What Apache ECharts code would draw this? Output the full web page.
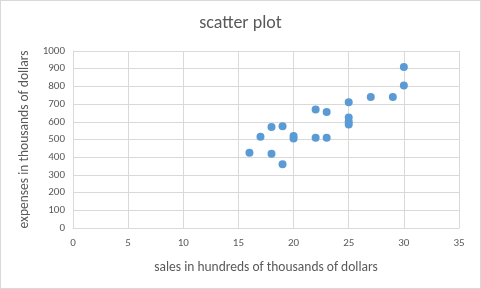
<!DOCTYPE html>
<html>
<head>
<meta charset="utf-8">
<script src="https://cdn.jsdelivr.net/npm/echarts@6/dist/echarts.min.js"></script>
<style>
  html, body { margin: 0; padding: 0; background: #fff; }
  #main { width: 481px; height: 289px; box-sizing: border-box; border: 1px solid #d9d9d9; }
</style>
</head>
<body>
<div id="main"></div>
<script>
// sales (hundreds of thousands) vs expenses (thousands)
var sales    = [16, 17, 18, 18, 19, 19, 20, 20, 22, 22, 23, 23, 25, 25, 25, 25, 27, 29, 30, 30];
var expenses = [425, 515, 570, 420, 575, 360, 520, 505, 670, 510, 655, 510, 710, 625, 600, 585, 740, 740, 805, 910];

var xTicks = { min: 0, max: 35, interval: 5 };
var yTicks = { min: 0, max: 1000, interval: 100 };

var points = sales.map(function (s, i) { return [s, expenses[i]]; });

var chart = echarts.init(document.getElementById('main'));

var txt = '#595959';
var gridCol = '#d9d9d9';
var font = 'Carlito, Calibri, "Open Sans", sans-serif';

chart.setOption({
  animation: false,
  title: {
    text: 'scatter plot',
    left: 'center',
    top: 8,
    textStyle: { color: txt, fontSize: 18, fontWeight: 'normal', fontFamily: font }
  },
  grid: {
    left: 72,
    right: 21,
    top: 50,
    bottom: 60
  },
  xAxis: {
    type: 'value',
    min: xTicks.min,
    max: xTicks.max,
    interval: xTicks.interval,
    name: 'sales in hundreds of thousands of dollars',
    nameLocation: 'middle',
    nameGap: 33,
    nameTextStyle: { color: txt, fontSize: 13.5, fontFamily: font },
    axisLine: { show: true, lineStyle: { color: gridCol } },
    axisTick: { show: false },
    axisLabel: { color: txt, fontSize: 11, fontFamily: font, margin: 10 },
    splitLine: { show: true, lineStyle: { color: gridCol } }
  },
  yAxis: {
    type: 'value',
    min: yTicks.min,
    max: yTicks.max,
    interval: yTicks.interval,
    name: 'expenses in thousands of dollars',
    nameLocation: 'middle',
    nameGap: 35,
    nameTextStyle: { color: txt, fontSize: 13.5, fontFamily: font },
    axisLine: { show: true, lineStyle: { color: gridCol } },
    axisTick: { show: false },
    axisLabel: {
      color: txt, fontSize: 11, fontFamily: font, margin: 8,
      formatter: function (v) { return String(v); }
    },
    splitLine: { show: true, lineStyle: { color: gridCol } }
  },
  series: [
    {
      type: 'scatter',
      data: points,
      symbol: 'circle',
      symbolSize: 8,
      itemStyle: { color: '#5b9bd5', opacity: 1 }
    }
  ]
});
</script>
</body>
</html>
